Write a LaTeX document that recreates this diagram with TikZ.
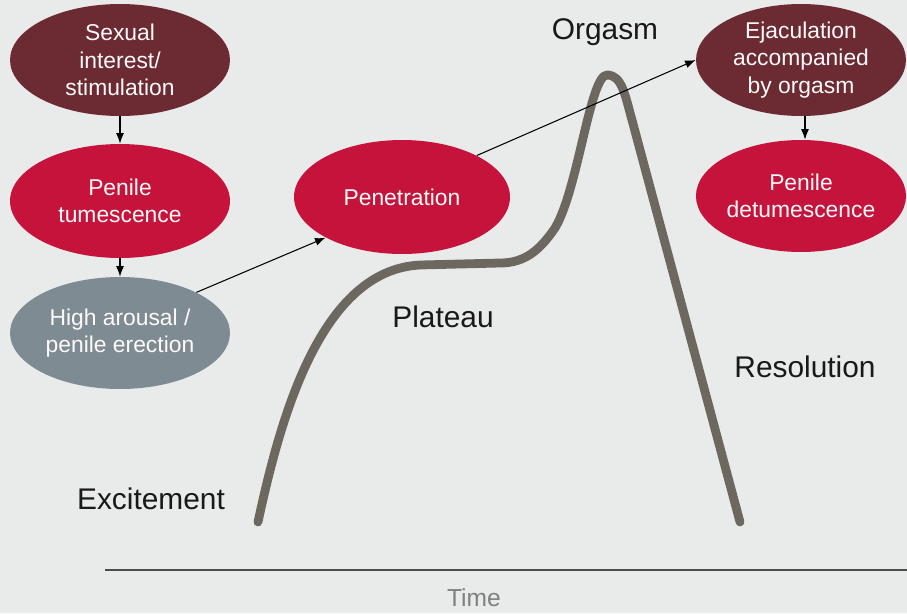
\documentclass[tikz,border=0pt]{standalone}
\usepackage{fontspec}
\setmainfont{Liberation Sans}
\usetikzlibrary{shapes.geometric,arrows.meta}
\definecolor{fondo}{HTML}{E8EBE9}
\definecolor{granate}{HTML}{6C2A33}
\definecolor{carmin}{HTML}{C5133C}
\definecolor{gris}{HTML}{7F8B92}
\definecolor{curva}{HTML}{6D685F}
\tikzset{
	elipse/.style={ellipse, draw=none, align=center, text=white!92!pink, font=\fontsize{13}{15.5}\selectfont, inner sep=0pt},
	fase/.style={font=\fontsize{17}{20}\selectfont, text=black!90},
	flecha/.style={-{Latex[length=6pt,width=4.5pt]}, line width=0.6pt, black}
}
\begin{document}
	\begin{tikzpicture}[x=0.02cm, y=-0.02cm]
		\useasboundingbox (0,0) rectangle (907,613);
		\fill[fondo] (0,0) rectangle (907,613);
		% eje del tiempo
		\draw[line width=0.8pt, black!70] (105,570) -- (907,570);
		\node[font=\fontsize{14}{16}\selectfont, text=black!50] (tiempo) at (474,598) {Time};
		% curva de respuesta
		\draw[curva, line width=5pt, line cap=round, line join=round] (258,522)
		.. controls (280,420) and (320,270) .. (420,265)
		-- (500,263)
		.. controls (525,263) and (540,250) .. (555,228)
		.. controls (578,190) and (590,75) .. (607,75)
		.. controls (622,75) and (625,95) .. (632,120)
		-- (740,522);
		% fases
		\node[fase] (orgasmo) at (605,32) {Orgasm};
		\node[fase] (meseta) at (443,317) {Plateau};
		\node[fase] (resolucion) at (805,367) {Resolution};
		\node[fase] (excitacion) at (151,499) {Excitement};
		% elipses
		\node[elipse, fill=granate, minimum width=4.4cm, minimum height=2.24cm] (interes) at (120,60) {Sexual\\interest/\\stimulation};
		\node[elipse, fill=carmin, minimum width=4.4cm, minimum height=2.28cm] (tumescencia) at (120,201) {Penile\\tumescence};
		\node[elipse, fill=gris, minimum width=4.4cm, minimum height=2.24cm] (erecion) at (120,333) {High arousal /\\penile erection};
		\node[elipse, fill=carmin, minimum width=4.32cm, minimum height=2.28cm] (penetracion) at (402,197) {Penetration};
		\node[elipse, fill=granate, minimum width=4.2cm, minimum height=2.24cm] (eyaculacion) at (801,60) {Ejaculation\\accompanied\\by orgasm};
		\node[elipse, fill=carmin, minimum width=4.2cm, minimum height=2.24cm] (detumescencia) at (801,196) {Penile\\detumescence};
		% flechas
		\draw[flecha] (interes) -- (tumescencia);
		\draw[flecha] (tumescencia) -- (erecion);
		\draw[flecha] (erecion.28) -- (penetracion.208);
		\draw[flecha] (penetracion.29) -- (eyaculacion.west);
		\draw[flecha] (eyaculacion.south) ++(4,0) coordinate (e1) -- (e1 |- detumescencia.north);
	\end{tikzpicture}
\end{document}
